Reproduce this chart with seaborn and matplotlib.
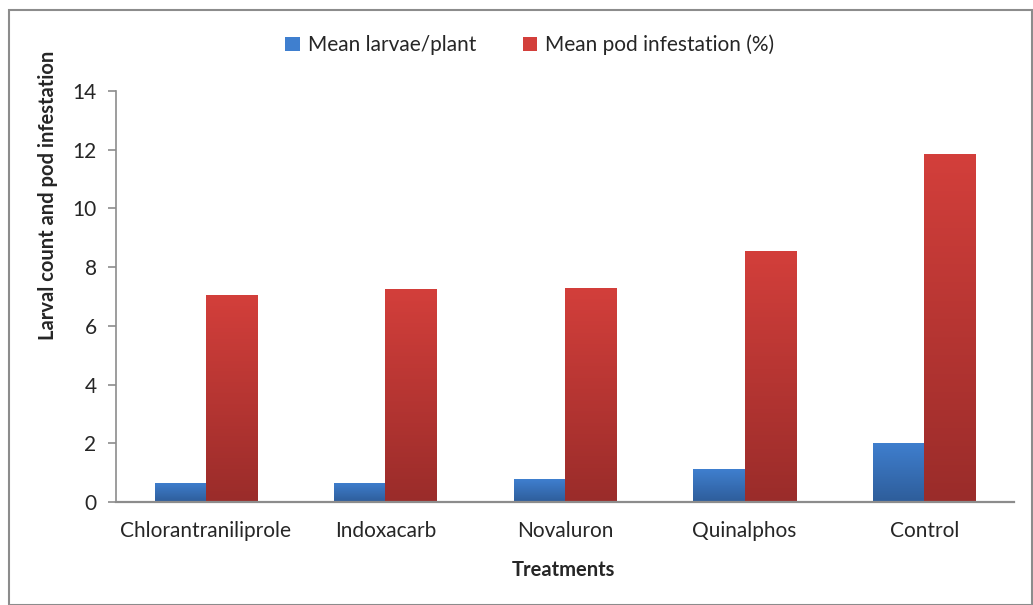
import numpy as np
import pandas as pd
import matplotlib
matplotlib.use('Agg')
import matplotlib.pyplot as plt
import matplotlib.patches as mpatches
from matplotlib.colors import LinearSegmentedColormap
import seaborn as sns

treatments = ['Chlorantraniliprole', 'Indoxacarb', 'Novaluron', 'Quinalphos', 'Control']
larvae = [0.65, 0.65, 0.78, 1.12, 2.01]
pod_infestation = [7.05, 7.25, 7.29, 8.55, 11.85]
series_names = ['Mean larvae/plant', 'Mean pod infestation (%)']
y_ticks = [0, 2, 4, 6, 8, 10, 12, 14]

df = pd.DataFrame({
    'Treatment': treatments * 2,
    'Value': larvae + pod_infestation,
    'Series': [series_names[0]] * 5 + [series_names[1]] * 5,
})

sns.set_style('white')
plt.rcParams['font.family'] = ['Lato', 'DejaVu Sans']

blue_top, blue_bot = '#3F7FCF', '#2E5D9A'
red_top, red_bot = '#D33F3B', '#9A2C2A'

fig = plt.figure(figsize=(10.33, 6.05), dpi=100)
ax = fig.add_axes([0.1123, 0.1702, 0.8693, 0.6794])

sns.barplot(data=df, x='Treatment', y='Value', hue='Series', palette=['#3668B3', '#B73533'],
            width=0.57, gap=0, ax=ax, legend=False)

# vertical gradient fill on each bar
grad = np.linspace(1, 0, 256).reshape(-1, 1)
cmaps = {
    0: LinearSegmentedColormap.from_list('b', [blue_bot, blue_top]),
    1: LinearSegmentedColormap.from_list('r', [red_bot, red_top]),
}
bars = [p for p in ax.patches if isinstance(p, mpatches.Rectangle)]
for i, p in enumerate(bars):
    x0, y0, w, h = p.get_x(), p.get_y(), p.get_width(), p.get_height()
    if h <= 0:
        continue
    cm = cmaps[i // len(treatments)]
    im = ax.imshow(grad, cmap=cm, extent=[x0, x0 + w, y0, y0 + h], aspect='auto',
                   vmin=0, vmax=1, zorder=p.get_zorder() + 0.1)
    im.set_clip_path(p)
    p.set_edgecolor('none')

ax.set_xlim(-0.5, len(treatments) - 0.5)
ax.set_ylim(0, 14)
ax.set_yticks(y_ticks)
ax.set_yticklabels([str(t) for t in y_ticks], fontsize=15)
ax.set_xticks(range(len(treatments)))
ax.set_xticklabels(treatments, fontsize=15)
ax.tick_params(axis='x', length=0, pad=14)
ax.set_xticks(np.arange(-0.5, len(treatments), 1), minor=True)
ax.tick_params(axis='x', which='minor', length=8, color='#8C8C8C', width=1.2, direction='out')
ax.tick_params(axis='y', length=6, color='#8C8C8C', width=1.2, direction='out', pad=8, left=True)
ax.set_xlabel('')
ax.set_ylabel('')

for s in ['top', 'right']:
    ax.spines[s].set_visible(False)
ax.spines['left'].set_color('#8C8C8C')
ax.spines['bottom'].set_color('#8C8C8C')
ax.spines['left'].set_linewidth(1.2)
ax.spines['bottom'].set_linewidth(1.6)

fig.text(0.545, 1 - 570 / 605, 'Treatments', ha='center', va='center', fontsize=14.5, fontweight='bold')
fig.text(48 / 1033, 1 - 195 / 605, 'Larval count and pod infestation', ha='center', va='center',
         rotation=90, fontsize=14.5, fontweight='bold')

handles = [mpatches.Patch(facecolor=blue_top, edgecolor='none'),
           mpatches.Patch(facecolor=red_top, edgecolor='none')]
fig.legend(handles, series_names, loc='center', bbox_to_anchor=(530 / 1033, 1 - 45 / 605),
           ncol=2, frameon=False, fontsize=15, handlelength=0.7, handleheight=0.7,
           handletextpad=0.4, columnspacing=2.2)

frame = mpatches.Rectangle((9 / 1033, 0), 1 - 10 / 1033, 1 - 10 / 605, transform=fig.transFigure,
                           fill=False, edgecolor='#8C8C8C', linewidth=1.5)
fig.patches.append(frame)

fig.savefig('out.png', dpi=100)
